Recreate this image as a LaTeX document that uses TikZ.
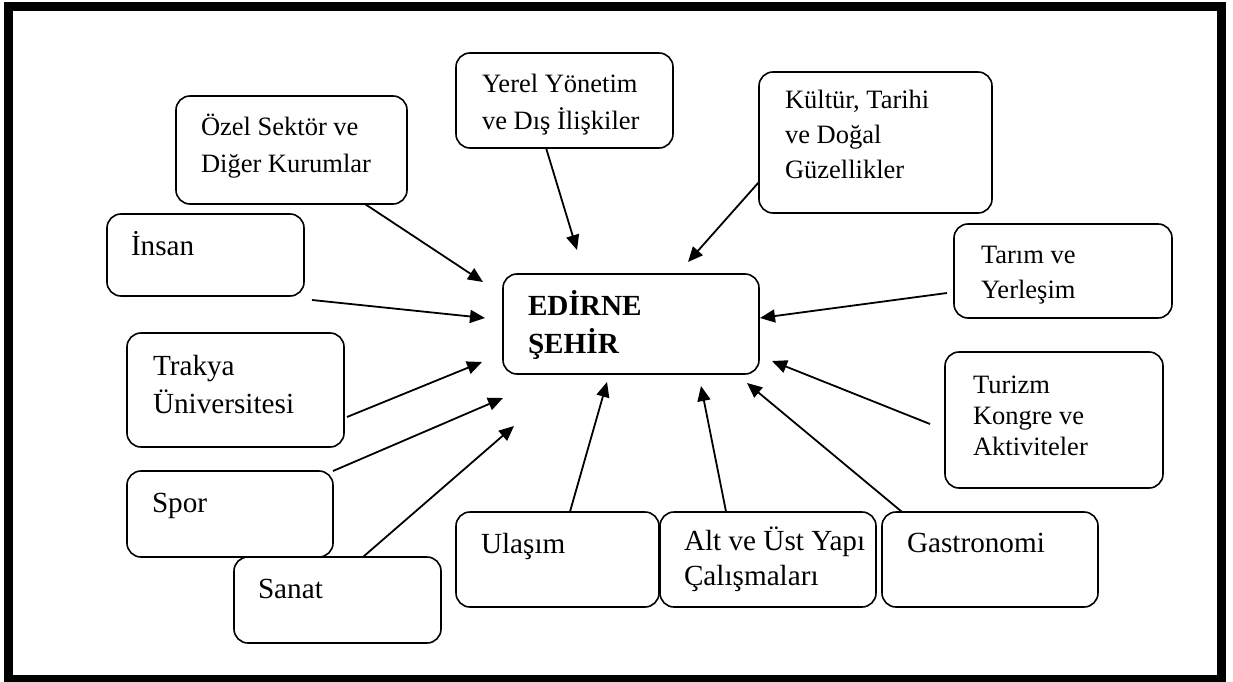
\documentclass[tikz,border=0pt]{standalone}
\usepackage{fontspec}
\setmainfont{Liberation Serif}
\usetikzlibrary{arrows.meta,calc}

% the anchor "base west" of a multi-line label sits on its last line
\tikzset{
  box/.style={draw, line width=1.6pt, rounded corners=14pt, inner sep=0pt, outer sep=0pt},
  txt/.style={inner sep=0pt, outer sep=0pt, anchor=base west, align=left,
              font=\fontsize{26.5}{#1}\selectfont},
  txt/.default=36,
  big/.style={inner sep=0pt, outer sep=0pt, anchor=base west, align=left,
              font=\fontsize{29.2}{#1}\selectfont},
  big/.default=38,
  arr/.style={line width=1.8pt, -{Triangle[length=15pt,width=13pt]}},
}

\begin{document}
\begin{tikzpicture}[x=1pt,y=-1pt]
  \useasboundingbox (0,0) rectangle (1233,682);
  % heavy outer frame
  \draw[line width=9pt] (8.5,7) rectangle (1221.5,679);

  % boxes
  \node[box, minimum width=231pt, minimum height=108pt] (ozel)   at (291.5,150)   {};
  \node[box, minimum width=197pt, minimum height=82pt]  (insan)  at (205.5,255)   {};
  \node[box, minimum width=217pt, minimum height=95pt]  (yerel)  at (564.5,100.5) {};
  \node[box, minimum width=233pt, minimum height=141pt] (kultur) at (875.5,142.5) {};
  \node[box, minimum width=218pt, minimum height=94pt]  (tarim)  at (1063,271)    {};
  \node[box, minimum width=256pt, minimum height=100pt] (city)   at (631,324)     {};
  \node[box, minimum width=217pt, minimum height=114pt] (trakya) at (235.5,390)   {};
  \node[box, minimum width=206pt, minimum height=86pt]  (spor)   at (230,514)     {};
  \node[box, minimum width=207pt, minimum height=86pt]  (sanat)  at (337.5,600)   {};
  \node[box, minimum width=203pt, minimum height=95pt]  (ulasim) at (557.5,559.5) {};
  \node[box, minimum width=216pt, minimum height=95pt]  (alt)    at (768,559.5)   {};
  \node[box, minimum width=216pt, minimum height=95pt]  (gastro) at (990,559.5)   {};
  \node[box, minimum width=218pt, minimum height=136pt] (turizm) at (1054,420)    {};

  % labels
  \node[txt=37] (ozel-t)   at (201,172)  {Özel Sektör ve\\Diğer Kurumlar};
  \node[big]    (insan-t)  at (131,255)  {İnsan};
  \node[txt=36] (yerel-t)  at (482,129)  {Yerel Yönetim\\ve Dış İlişkiler};
  \node[txt=35] (kultur-t) at (785,178)  {Kültür, Tarihi\\ve Doğal\\Güzellikler};
  \node[txt=35] (tarim-t)  at (981,298)  {Tarım ve\\Yerleşim};
  \node[big=38, font=\fontsize{29.2}{38}\selectfont\bfseries] (city-t) at (528,353) {EDİRNE\\ŞEHİR};
  \node[big=38] (trakya-t) at (153,413)  {Trakya\\Üniversitesi};
  \node[big]    (spor-t)   at (152,512)  {Spor};
  \node[big]    (sanat-t)  at (258,598)  {Sanat};
  \node[big]    (ulasim-t) at (481,553)  {Ulaşım};
  \node[big=35] (alt-t)    at (684,585)  {Alt ve Üst Yapı\\Çalışmaları};
  \node[big]    (gastro-t) at (907,552)  {Gastronomi};
  \node[txt=31] (turizm-t) at (973,455)  {Turizm\\Kongre ve\\Aktiviteler};

  % arrow tips around the central box
  \coordinate (t-ozel)   at (483,282);
  \coordinate (t-insan)  at (485,318);
  \coordinate (t-yerel)  at (577,250);
  \coordinate (t-kultur) at (688,262);
  \coordinate (t-tarim)  at (760,318);
  \coordinate (t-trakya) at (482,362);
  \coordinate (t-spor)   at (503,398);
  \coordinate (t-sanat)  at (514,426);
  \coordinate (t-ulasim) at (607,382);
  \coordinate (t-alt)    at (701,386);
  \coordinate (t-gastro) at (747,383);
  \coordinate (t-turizm) at (772,361);

  % connectors
  \draw[arr] ($(ozel.south west)!0.818!(ozel.south east)$) -- (t-ozel);
  \draw[arr] ([shift={(8,4)}]insan.south east) -- (t-insan);
  \draw[arr] ($(yerel.south west)!0.415!(yerel.south east)$) -- (t-yerel);
  \draw[arr] ($(kultur.north west)!0.78!(kultur.south west)$) -- (t-kultur);
  \draw[arr] ([shift={(-7,22)}]tarim.west) -- (t-tarim);
  \draw[arr] ([shift={(3,27)}]trakya.east) -- (t-trakya);
  \draw[arr] (spor.north east) -- (t-spor);
  \draw[arr] ($(sanat.north west)!0.623!(sanat.north east)$) -- (t-sanat);
  \draw[arr] ($(ulasim.north west)!0.561!(ulasim.north east)$) -- (t-ulasim);
  \draw[arr] ($(alt.north west)!0.306!(alt.north east)$) -- (t-alt);
  \draw[arr] ($(gastro.north west)!0.093!(gastro.north east)$) -- (t-gastro);
  \draw[arr] ([shift={(-15,4)}]turizm.west) -- (t-turizm);
\end{tikzpicture}
\end{document}
